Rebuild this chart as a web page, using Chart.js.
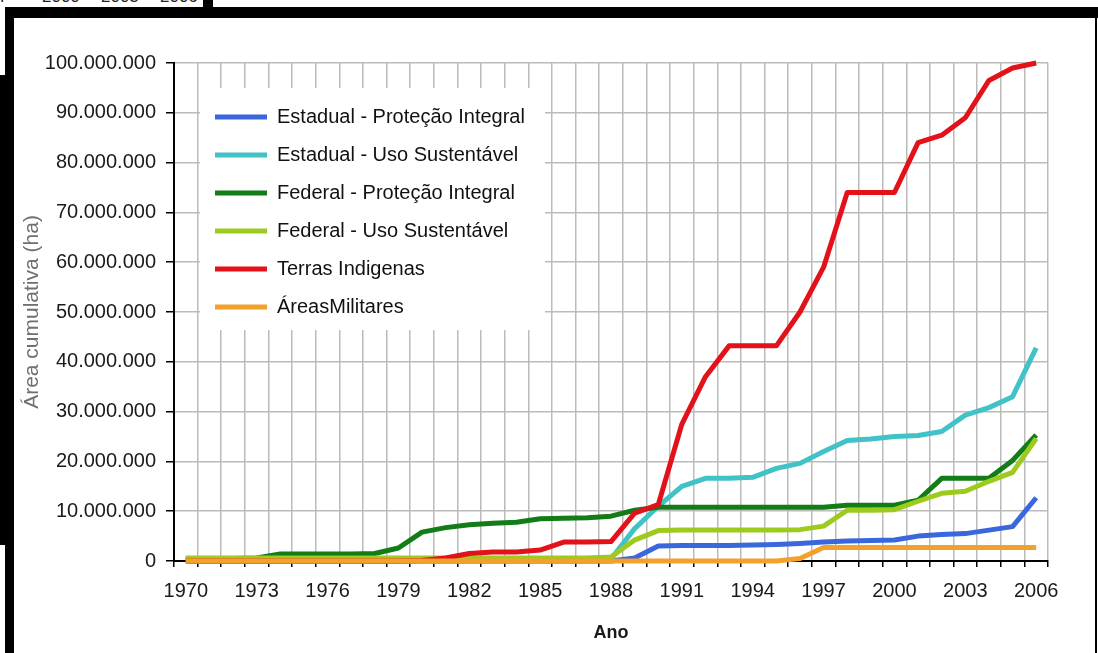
<!DOCTYPE html>
<html>
<head>
<meta charset="utf-8">
<script src="https://cdn.jsdelivr.net/npm/chart.js@4.4.1/dist/chart.umd.min.js"></script>
<style>
  body { margin: 0; width: 1098px; height: 653px; background: #fff; position: relative; overflow: hidden;
         font-family: 'Liberation Sans', Arial, sans-serif; }
  .bk { position: absolute; background: #000; }
  #resto { position: absolute; left: 0; top: 0; width: 203px; height: 7px; overflow: hidden; }
  #resto span { position: absolute; top: -12px; font-size: 17px; line-height: 17px; color: #222; }
  #grafico { position: absolute; left: 14px; top: 18px; }
</style>
</head>
<body>
<!-- pedaço da imagem de cima que ficou no recorte -->
<div id="resto"><span style="left:-30px">1997</span><span style="left:42px">2000</span><span style="left:101px">2003</span><span style="left:160px">2006</span></div>
<div class="bk" style="left:203px;top:0;width:10px;height:8px"></div>
<div class="bk" style="left:5px;top:7px;width:1093px;height:11px"></div>
<div class="bk" style="left:5px;top:7px;width:9px;height:646px"></div>
<div class="bk" style="left:0;top:75px;width:6px;height:470px"></div>
<div class="bk" style="left:1095px;top:7px;width:2px;height:646px"></div>

<canvas id="grafico" width="1081" height="635"></canvas>

<script>
const anos = ['1970', '1971', '1972', '1973', '1974', '1975', '1976', '1977', '1978', '1979',
              '1980', '1981', '1982', '1983', '1984', '1985', '1986', '1987', '1988', '1989',
              '1990', '1991', '1992', '1993', '1994', '1995', '1996', '1997', '1998', '1999',
              '2000', '2001', '2002', '2003', '2004', '2005', '2006'];
const anosVisiveis = ['1970', '1973', '1976', '1979', '1982', '1985', '1988', '1991', '1994', '1997', '2000', '2003', '2006'];

// área cumulativa (ha), um valor por ano
const estadualPI = [0, 0, 0, 0, 0, 0, 0, 0, 0, 0,
                    0, 0, 0, 0, 0, 0, 0, 0, 0, 0.6e6,
                    3.0e6, 3.1e6, 3.1e6, 3.1e6, 3.2e6, 3.3e6, 3.5e6, 3.8e6, 4.0e6, 4.1e6,
                    4.2e6, 5.0e6, 5.3e6, 5.5e6, 6.2e6, 6.9e6, 12.7e6];
const estadualUS = [0, 0, 0, 0, 0, 0, 0, 0, 0, 0,
                    0, 0, 0, 0, 0, 0, 0, 0, 0.4e6, 6.5e6,
                    11.0e6, 15.0e6, 16.6e6, 16.6e6, 16.8e6, 18.6e6, 19.6e6, 22.0e6, 24.2e6, 24.5e6,
                    25.0e6, 25.2e6, 26.0e6, 29.3e6, 30.8e6, 33.0e6, 42.8e6];
const federalPI = [0.5e6, 0.5e6, 0.5e6, 0.6e6, 1.4e6, 1.4e6, 1.4e6, 1.4e6, 1.5e6, 2.6e6,
                   5.8e6, 6.7e6, 7.3e6, 7.6e6, 7.8e6, 8.5e6, 8.6e6, 8.7e6, 9.0e6, 10.2e6,
                   10.8e6, 10.8e6, 10.8e6, 10.8e6, 10.8e6, 10.8e6, 10.8e6, 10.8e6, 11.2e6, 11.2e6,
                   11.2e6, 12.2e6, 16.6e6, 16.6e6, 16.6e6, 20.2e6, 25.3e6];
const federalUS = [0.6e6, 0.6e6, 0.6e6, 0.6e6, 0.6e6, 0.6e6, 0.6e6, 0.6e6, 0.6e6, 0.6e6,
                   0.6e6, 0.6e6, 0.6e6, 0.6e6, 0.6e6, 0.6e6, 0.6e6, 0.6e6, 0.8e6, 4.2e6,
                   6.1e6, 6.2e6, 6.2e6, 6.2e6, 6.2e6, 6.2e6, 6.3e6, 7.0e6, 10.2e6, 10.2e6,
                   10.3e6, 12.0e6, 13.6e6, 14.0e6, 16.0e6, 17.8e6, 24.6e6];
const terrasIndigenas = [0, 0, 0, 0, 0, 0, 0, 0, 0, 0,
                         0.1e6, 0.6e6, 1.5e6, 1.8e6, 1.8e6, 2.2e6, 3.8e6, 3.8e6, 3.9e6, 9.6e6,
                         11.3e6, 27.5e6, 37.0e6, 43.2e6, 43.2e6, 43.2e6, 50.0e6, 59.0e6, 74.0e6, 74.0e6,
                         74.0e6, 84.0e6, 85.5e6, 89.0e6, 96.5e6, 99.0e6, 100.0e6];
const areasMilitares = [0, 0, 0, 0, 0, 0, 0, 0, 0, 0,
                        0, 0, 0, 0, 0, 0, 0, 0, 0, 0,
                        0, 0, 0, 0, 0, 0, 0.5e6, 2.7e6, 2.7e6, 2.7e6,
                        2.7e6, 2.7e6, 2.7e6, 2.7e6, 2.7e6, 2.7e6, 2.7e6];

const fonte = "'Liberation Sans', Arial, sans-serif";

function serie(label, data, cor, ordem) {
    return {
        label: label,
        data: data,
        borderColor: cor,
        backgroundColor: cor,
        borderWidth: 5,
        pointRadius: 0,
        tension: 0,
        fill: false,
        borderJoinStyle: 'round',
        clip: false,
        order: ordem // no Excel a última série fica por cima
    };
}

// legenda dentro da área do gráfico, com fundo branco por cima da grade
const legendaFundo = {
    id: 'legendaFundo',
    afterLayout(chart) {
        const lg = chart.legend;
        lg.left = chart.chartArea.left + 23;
        lg.top = chart.chartArea.top + 26;
        lg.right = lg.left + lg.width;
        lg.bottom = lg.top + lg.height;
        if (!lg._comFundo) {
            const desenhar = lg.draw.bind(lg);
            lg.draw = function () {
                const ctx = chart.ctx;
                ctx.save();
                ctx.fillStyle = '#fff';
                ctx.fillRect(lg.left + 3, lg.top - 1, 345, 242);
                ctx.restore();
                desenhar();
            };
            lg._comFundo = true;
        }
    }
};

new Chart(document.getElementById('grafico'), {
    type: 'line',
    data: {
        labels: anos,
        datasets: [
            serie('Estadual - Proteção Integral', estadualPI, '#3b67de', 6),
            serie('Estadual - Uso Sustentável', estadualUS, '#40c2c6', 5),
            serie('Federal - Proteção Integral', federalPI, '#127c16', 4),
            serie('Federal - Uso Sustentável', federalUS, '#9ccb1e', 3),
            serie('Terras Indigenas', terrasIndigenas, '#e2111a', 2),
            serie('ÁreasMilitares', areasMilitares, '#f2a12c', 1)
        ]
    },
    options: {
        responsive: false,
        animation: false,
        devicePixelRatio: 1,
        layout: { padding: { top: 45, right: 47, left: 0, bottom: 0 } },
        plugins: {
            tooltip: { enabled: false },
            legend: {
                position: 'chartArea',
                align: 'start',
                labels: {
                    usePointStyle: true,
                    pointStyle: 'line',
                    pointStyleWidth: 52,
                    padding: 18,
                    color: '#111',
                    font: { family: fonte, size: 20 },
                    sort: (a, b) => a.datasetIndex - b.datasetIndex
                }
            }
        },
        scales: {
            x: {
                type: 'category',
                offset: true,
                grid: { offset: true, color: '#bbbbbb', lineWidth: 1.5, tickColor: '#000', tickLength: 6 },
                border: { color: '#000', width: 2 },
                ticks: {
                    autoSkip: false,
                    maxRotation: 0,
                    padding: 12,
                    color: '#1a1a1a',
                    font: { family: fonte, size: 20 },
                    callback: function (v) {
                        const ano = this.getLabelForValue(v);
                        return anosVisiveis.includes(ano) ? ano : '';
                    }
                },
                title: {
                    display: true,
                    text: 'Ano',
                    color: '#1a1a1a',
                    font: { family: fonte, size: 18, weight: 'bold' },
                    padding: { top: 0, bottom: 9 }
                },
                afterFit: (s) => { s.height = 92; }
            },
            y: {
                min: 0,
                max: 100000000,
                grid: { color: '#bbbbbb', lineWidth: 1.5, tickColor: '#000', tickLength: 8 },
                border: { color: '#000', width: 2 },
                ticks: {
                    stepSize: 10000000,
                    padding: 10,
                    color: '#1a1a1a',
                    font: { family: fonte, size: 20 },
                    callback: (v) => String(v).replace(/\B(?=(\d{3})+(?!\d))/g, '.')
                },
                title: {
                    display: true,
                    text: 'Área cumulativa (ha)',
                    color: '#707070',
                    font: { family: fonte, size: 21 },
                    padding: { top: 6, bottom: 0 }
                },
                afterFit: (s) => { s.width = 160; }
            }
        }
    },
    plugins: [legendaFundo]
});
</script>
</body>
</html>
